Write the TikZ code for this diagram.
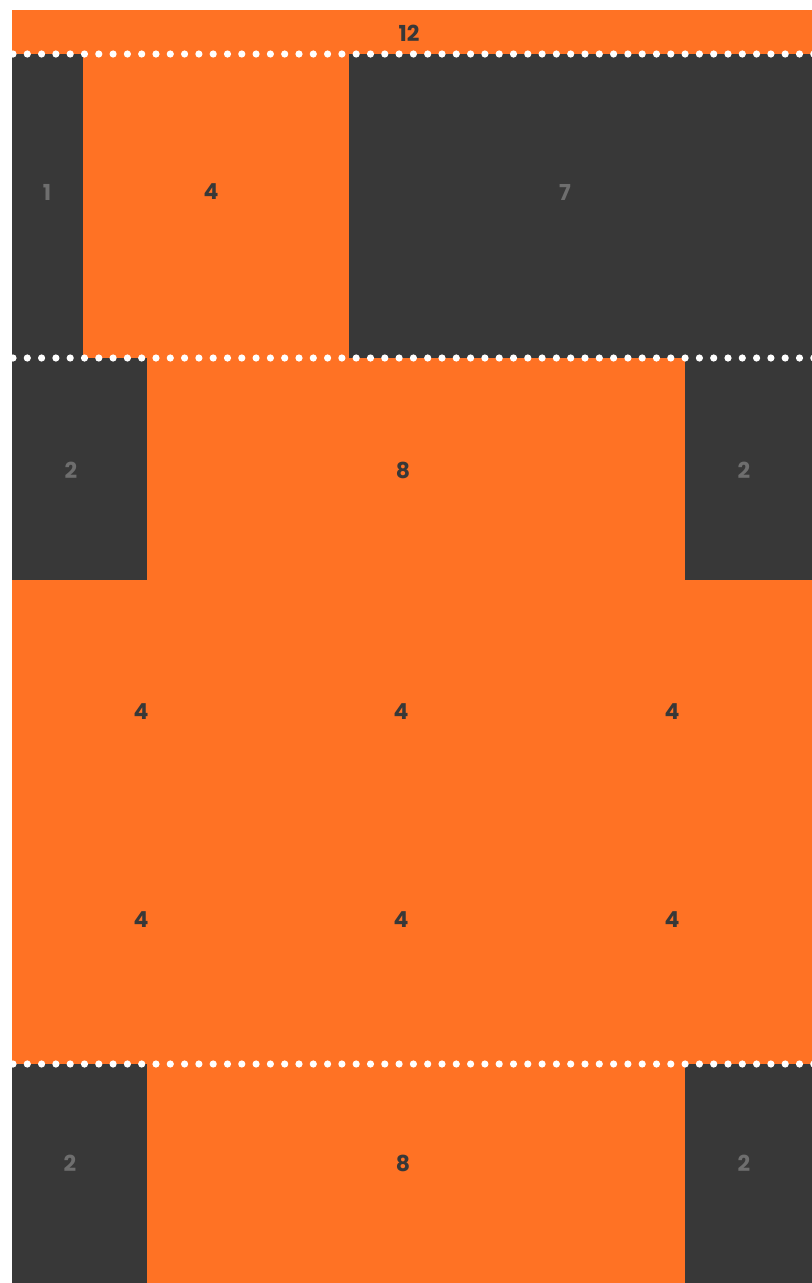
\documentclass[tikz,border=0pt]{standalone}
\usepackage{fontspec}
\setmainfont{Poppins}
\definecolor{org}{HTML}{FF7224}
\definecolor{drk}{HTML}{383838}
\definecolor{lgray}{HTML}{6E6E6E}
\begin{document}
\begin{tikzpicture}[x=0.75pt,y=-0.75pt,
  onorange/.style={text=drk,font=\bfseries\fontsize{16.5}{19}\selectfont,inner sep=0pt},
  ondark/.style={text=lgray,font=\bfseries\fontsize{16.5}{19}\selectfont,inner sep=0pt}]
\useasboundingbox (0,0) rectangle (812,1283);
\fill[white] (0,0) rectangle (812,1283);
% row 1
\fill[org] (12,10) rectangle (812,54);
% row 2
\fill[drk] (12,54) rectangle (83,358);
\fill[org] (83,54) rectangle (349,358);
\fill[drk] (349,54) rectangle (812,358);
% row 3
\fill[drk] (12,358) rectangle (147,580);
\fill[org] (147,358) rectangle (685,580);
\fill[drk] (685,358) rectangle (812,580);
% rows 4-5
\fill[org] (12,580) rectangle (812,1064);
% row 6
\fill[drk] (12,1064) rectangle (147,1283);
\fill[org] (147,1064) rectangle (685,1283);
\fill[drk] (685,1064) rectangle (812,1283);
% dotted separators
\foreach \yy in {54,358,1064}{
  \foreach \k in {0,...,56}{
    \fill[white] (13+14.3*\k,\yy) circle[radius=3.6];
  }
}
% labels
\node[onorange] (l12) at (409,33) {12};
\node[ondark] (l1) at (47,192) {1};
\node[onorange] (l4) at (211,192) {4};
\node[ondark] (l7) at (565,192) {7};
\node[ondark] (l2a) at (71,470) {2};
\node[onorange] (l8a) at (403,470) {8};
\node[ondark] (l2b) at (744,470) {2};
\node[onorange] (r4a) at (141,712) {4};
\node[onorange] (r4b) at (401,712) {4};
\node[onorange] (r4c) at (672,712) {4};
\node[onorange] (r5a) at (141,920) {4};
\node[onorange] (r5b) at (401,920) {4};
\node[onorange] (r5c) at (672,920) {4};
\node[ondark] (l2c) at (70,1163) {2};
\node[onorange] (l8b) at (403,1163) {8};
\node[ondark] (l2d) at (744,1163) {2};
\end{tikzpicture}
\end{document}
